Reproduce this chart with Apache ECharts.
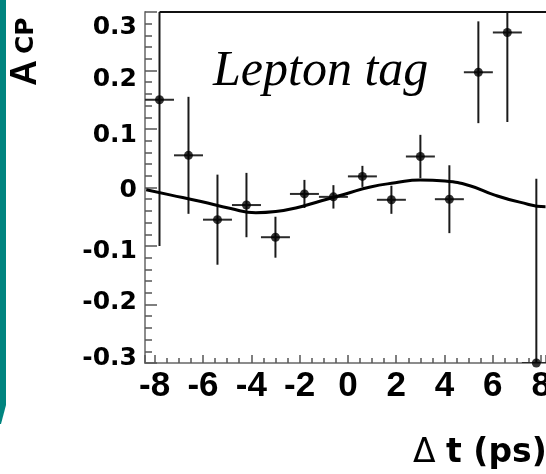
<!DOCTYPE html>
<html>
<head>
<meta charset="utf-8">
<script src="https://cdn.jsdelivr.net/npm/echarts@6/dist/echarts.min.js"></script>
<style>
  html, body { margin: 0; padding: 0; background: #ffffff; }
  #chart { width: 546px; height: 474px; }
</style>
</head>
<body>
<div id="chart"></div>
<script>
// Δt bin centres (ps) and measured asymmetry with errors
const binCenters = [-7.8, -6.6, -5.4, -4.2, -3.0, -1.8, -0.6, 0.6, 1.8, 3.0, 4.2, 5.4, 6.6, 7.8];
const acpValues  = [0.150, 0.055, -0.055, -0.030, -0.085, -0.011, -0.016, 0.019, -0.021, 0.053, -0.020, 0.197, 0.265, -0.300];
const acpErrors  = [0.250, 0.100, 0.077, 0.055, 0.035, 0.024, 0.020, 0.018, 0.024, 0.037, 0.058, 0.087, 0.153, 0.315];
const binHalfWidth = 0.6;

// fitted asymmetry curve, sampled along Δt
const fitT   = [-8.35, -7.32, -6.08, -4.85, -3.81, -2.99, -2.16, -1.13, -0.10, 0.93, 1.96, 2.99, 4.02, 5.05, 6.08, 7.11, 8.18, 8.20];
const fitAcp = [-0.004, -0.013, -0.024, -0.036, -0.043, -0.041, -0.035, -0.023, -0.011, 0.001, 0.008, 0.013, 0.011, 0.003, -0.013, -0.025, -0.033, -0.033];

// axis tick labels
const xTickLabels = ['-8', '-6', '-4', '-2', '0', '2', '4', '6', '8'];
const yTickLabels = ['-0.3', '-0.2', '-0.1', '0', '0.1', '0.2', '0.3'];

// visible Δt window
const tMin = -8.4, tMax = 8.2;

const points = binCenters.map((t, i) => [t, acpValues[i], acpErrors[i]]);
const fitLine = fitT.map((t, i) => [t, fitAcp[i]]);

const axisGrey = '#8c8c8c';
const tickGrey = '#555';

// vertical nudge of the y labels (top label sits below its tick)
const yLabelNudge = { '0.3': 15, '0.2': 9, '0.1': 6, '0': 3, '-0.1': 5, '-0.2': -2, '-0.3': -5 };
const yLabelFont = { fontFamily: 'DejaVu Sans', fontWeight: 'bold', fontSize: 25, color: '#000' };
const yLabelRich = {};
yTickLabels.forEach((s, i) => {
  const n = yLabelNudge[s] || 0;
  yLabelRich['y' + i] = Object.assign({}, yLabelFont, {
    padding: n >= 0 ? [2 * n, 0, 0, 0] : [0, 0, -2 * n, 0]
  });
});

const chart = echarts.init(document.getElementById('chart'), null, { renderer: 'canvas' });

chart.setOption({
  animation: false,
  backgroundColor: '#ffffff',
  grid: { left: 145, top: 12, right: 0, bottom: 111, containLabel: false, outerBoundsMode: 'none' },
  xAxis: {
    type: 'value',
    min: tMin,
    max: tMax,
    splitNumber: 8,
    axisLine: { onZero: false, lineStyle: { color: axisGrey, width: 2 } },
    axisTick: { inside: true, length: 8, lineStyle: { color: tickGrey, width: 1.5 } },
    minorTick: { show: true, splitNumber: 4, length: 5, lineStyle: { color: tickGrey, width: 1.5 } },
    splitLine: { show: false },
    axisLabel: {
      margin: 6,
      color: '#000',
      fontFamily: 'Liberation Sans',
      fontWeight: 'bold',
      fontSize: 35,
      showMaxLabel: false,
      formatter: v => {
        const s = String(Math.round(v * 100) / 100);
        return xTickLabels.includes(s) ? s : '';
      }
    }
  },
  yAxis: {
    type: 'value',
    min: -0.3,
    max: 0.3,
    interval: 0.1,
    axisLine: { onZero: false, lineStyle: { color: axisGrey, width: 2 } },
    axisTick: { inside: true, length: 12, lineStyle: { color: tickGrey, width: 1.5 } },
    minorTick: { show: true, splitNumber: 5, length: 7, lineStyle: { color: tickGrey, width: 1.5 } },
    splitLine: { show: false },
    axisLabel: Object.assign({
      margin: 8,
      rich: yLabelRich,
      formatter: v => {
        const s = String(Math.round(v * 10) / 10);
        const i = yTickLabels.indexOf(s);
        return i < 0 ? '' : '{y' + i + '|' + s + '}';
      }
    }, yLabelFont)
  },
  series: [
    {
      name: 'errors',
      type: 'custom',
      clip: true,
      data: points,
      renderItem: (params, api) => {
        const t = api.value(0), a = api.value(1), e = api.value(2);
        const top = api.coord([t, a + e]);
        const bot = api.coord([t, a - e]);
        const left = api.coord([t - binHalfWidth, a]);
        const right = api.coord([t + binHalfWidth, a]);
        return {
          type: 'group',
          children: [
            { type: 'line', shape: { x1: top[0], y1: top[1], x2: bot[0], y2: bot[1] },
              style: { stroke: '#1a1a1a', lineWidth: 2 } },
            { type: 'line', shape: { x1: left[0], y1: left[1], x2: right[0], y2: right[1] },
              style: { stroke: '#2a2a2a', lineWidth: 2 } }
          ]
        };
      },
      markLine: {
        silent: true,
        symbol: 'none',
        label: { show: false },
        lineStyle: { color: '#111', width: 2, type: 'solid' },
        data: [[{ coord: [binCenters[0], 0.3] }, { coord: [tMax, 0.3] }]]
      },
      z: 2
    },
    {
      name: 'fit',
      type: 'line',
      data: fitLine,
      smooth: 0.5,
      showSymbol: false,
      lineStyle: { color: '#000', width: 3 },
      z: 3
    },
    {
      name: 'data',
      type: 'scatter',
      data: points.map(p => [p[0], p[1]]),
      symbol: 'circle',
      symbolSize: 9,
      itemStyle: { color: '#000' },
      z: 4
    }
  ],
  graphic: [
    {
      type: 'polygon',
      shape: { points: [[0, 0], [6, 0], [6, 405], [1, 424], [0, 424]] },
      style: { fill: '#00847f' }
    },
    {
      type: 'text',
      x: 44,
      y: 86,
      rotation: Math.PI / 2,
      style: {
        text: '{a|A}{s|CP}',
        align: 'left',
        verticalAlign: 'bottom',
        rich: {
          a: { fontFamily: 'Liberation Sans', fontWeight: 'bold', fontSize: 36, fill: '#000', padding: [0, 6, 0, 0] },
          s: { fontFamily: 'DejaVu Sans', fontWeight: 'bold', fontSize: 25, fill: '#000' }
        }
      }
    },
    {
      type: 'text',
      x: 213,
      y: 97,
      style: {
        text: 'Lepton tag',
        fontFamily: 'Liberation Serif',
        fontStyle: 'italic',
        fontSize: 50,
        fill: '#000',
        align: 'left',
        verticalAlign: 'bottom'
      }
    },
    {
      type: 'text',
      x: 413,
      y: 470,
      style: {
        text: '{d|Δ }{b|t (ps)}',
        align: 'left',
        verticalAlign: 'bottom',
        rich: {
          d: { fontFamily: 'DejaVu Sans', fontSize: 33, fill: '#000' },
          b: { fontFamily: 'DejaVu Sans', fontWeight: 'bold', fontSize: 33, fill: '#000' }
        }
      }
    }
  ]
});
</script>
</body>
</html>
